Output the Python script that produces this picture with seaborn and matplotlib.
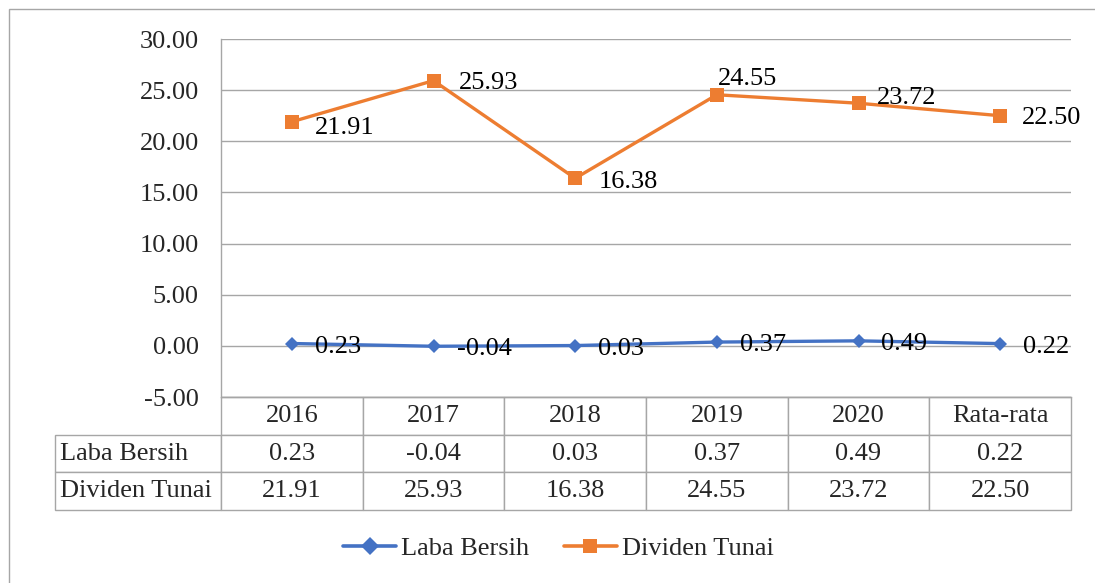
import seaborn as sns
import matplotlib
matplotlib.use("Agg")
import matplotlib.pyplot as plt
from matplotlib.table import Table
from matplotlib.patches import Rectangle
import pandas as pd

# data
tahun = ["2016", "2017", "2018", "2019", "2020", "Rata-rata"]
laba_bersih = [0.23, -0.04, 0.03, 0.37, 0.49, 0.22]
dividen_tunai = [21.91, 25.93, 16.38, 24.55, 23.72, 22.50]
yticks = [-5, 0, 5, 10, 15, 20, 25, 30]

# label offsets (pixels) for data labels
off_laba = [(23, -3)] * 6
off_div = [(23, -6), (25, -2), (24, -4), (1, 16), (18, 5), (22, -2)]

BLUE = "#4472C4"
ORANGE = "#ED7D31"
GRID = "#a6a6a6"
FS = 19

sns.set_style("white")
plt.rcParams["font.family"] = ["Liberation Serif", "DejaVu Serif"]
plt.rcParams["axes.unicode_minus"] = False

W, H = 1095, 583
fig = plt.figure(figsize=(W / 100, H / 100), dpi=100)
ax = fig.add_axes([221 / W, 1 - 397 / H, 850 / W, 358 / H])

df_laba = pd.DataFrame({"tahun": tahun, "nilai": laba_bersih})
df_div = pd.DataFrame({"tahun": tahun, "nilai": dividen_tunai})

sns.lineplot(ax=ax, data=df_laba, x="tahun", y="nilai", sort=False,
             color=BLUE, marker="D", markersize=7.5, markeredgewidth=0,
             linewidth=2.4, label="Laba Bersih")
sns.lineplot(ax=ax, data=df_div, x="tahun", y="nilai", sort=False,
             color=ORANGE, marker="s", markersize=10, markeredgewidth=0,
             linewidth=2.4, label="Dividen Tunai")

for i, (v, o) in enumerate(zip(laba_bersih, off_laba)):
    ax.annotate(f"{v:.2f}", (tahun[i], v), xytext=o, textcoords="offset pixels",
                ha="left", va="center", fontsize=FS, color="black")
for i, (v, o) in enumerate(zip(dividen_tunai, off_div)):
    ax.annotate(f"{v:.2f}", (tahun[i], v), xytext=o, textcoords="offset pixels",
                ha="left", va="center", fontsize=FS, color="black")

ax.set_xlim(-0.5, len(tahun) - 0.5)
ax.set_ylim(-5, 30)
ax.set_yticks(yticks)
ax.set_yticklabels([f"{t:.2f}" for t in yticks], fontsize=FS)
ax.tick_params(axis="y", length=6, width=1, color=GRID, pad=10)
ax.tick_params(axis="x", length=0, labelbottom=False)
ax.set_xlabel("")
ax.set_ylabel("")
ax.grid(axis="y", color=GRID, linewidth=1)
ax.grid(axis="x", visible=False)
for s in ["top", "right"]:
    ax.spines[s].set_visible(False)
for s in ["left", "bottom"]:
    ax.spines[s].set_color(GRID)
    ax.spines[s].set_linewidth(1)

# data table under the plot
w0 = 166 / 850
hrow = 113 / 358 / 3
tbl = Table(ax, bbox=[-w0, -3 * hrow, 1 + w0, 3 * hrow])
rows = [("", tahun), ("Laba Bersih", [f"{v:.2f}" for v in laba_bersih]),
        ("Dividen Tunai", [f"{v:.2f}" for v in dividen_tunai])]
for r, (lbl, vals) in enumerate(rows):
    c0 = tbl.add_cell(r, 0, w0, hrow, text=lbl, loc="left")
    c0.PAD = 0.03
    if r == 0:
        c0.visible_edges = "open"
    for c, v in enumerate(vals):
        tbl.add_cell(r, c + 1, 1 / len(tahun), hrow, text=v, loc="center")
for cell in tbl.get_celld().values():
    cell.set_edgecolor(GRID)
    cell.set_linewidth(1)
tbl.auto_set_font_size(False)
tbl.set_fontsize(FS)
ax.add_table(tbl)

handles, labels = ax.get_legend_handles_labels()
ax.legend_.remove()
leg = fig.legend(handles, labels, loc="center", bbox_to_anchor=(0.51, 1 - 548 / H),
                 ncol=2, frameon=False, fontsize=FS, handlelength=2.0,
                 handletextpad=0.2, columnspacing=1.3)
for h, ms in zip(leg.legend_handles, [9, 10]):
    h.set_markersize(ms)
    h.set_linewidth(2.6)

# outer chart border
fig.patches.append(Rectangle((9 / W, -0.05), 1.1, 1 - 9 / H + 0.05,
                             transform=fig.transFigure, fill=False,
                             edgecolor=GRID, linewidth=1))

fig.savefig("out.png", dpi=100)
